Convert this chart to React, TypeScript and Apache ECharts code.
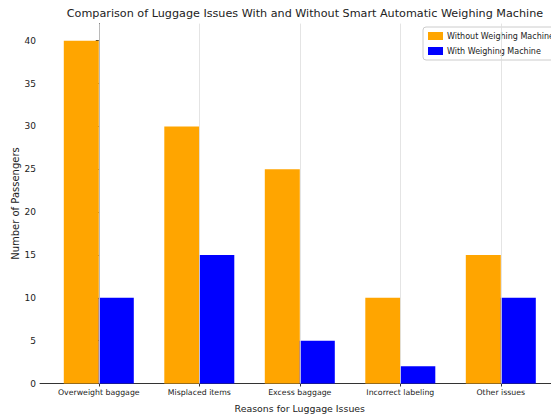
import React, { useEffect, useRef } from "react";
import * as echarts from "echarts";

const categories = ["Overweight baggage", "Misplaced items", "Excess baggage", "Incorrect labeling", "Other issues"];
const withoutMachine = [40, 30, 25, 10, 15];
const withMachine = [10, 15, 5, 2, 10];
const yTicks = [0, 5, 10, 15, 20, 25, 30, 35, 40];
const catIdx = categories.map((_, i) => i);

export default function App() {
  const ref = useRef<HTMLDivElement>(null);
  useEffect(() => {
    if (!ref.current) return;
    const chart = echarts.init(ref.current, null, { renderer: "svg" });
    const font = "DejaVu Sans";
    chart.setOption({
      animation: false,
      backgroundColor: "#fff",
      textStyle: { fontFamily: font },
      title: {
        text: "Comparison of Luggage Issues With and Without Smart Automatic Weighing Machine",
        left: 300,
        textAlign: "center",
        top: 3,
        textStyle: { fontFamily: font, fontSize: 11.2, fontWeight: "normal", color: "#222" },
      },
      legend: {
        data: ["Without Weighing Machine", "With Weighing Machine"],
        orient: "vertical",
        left: 423,
        top: 27,
        itemWidth: 15,
        itemHeight: 8,
        itemGap: 7,
        padding: [5, 6, 5, 5],
        borderColor: "#ccc",
        borderWidth: 1,
        borderRadius: 3,
        backgroundColor: "rgba(255,255,255,0.9)",
        icon: "rect",
        textStyle: { fontFamily: font, fontSize: 8, color: "#222", padding: [0, 0, 0, -1] },
      },
      grid: { left: 40, right: -8.6, top: 23.6, bottom: 32.5, containLabel: false, outerBoundsMode: "none" },
      xAxis: {
        type: "value",
        min: -0.585,
        max: 4.585,
        name: "Reasons for Luggage Issues",
        nameLocation: "middle",
        nameGap: 20,
        nameMoveOverlap: false,
        nameTextStyle: { fontFamily: font, fontSize: 9.4, color: "#222" },
        axisLine: { show: true, lineStyle: { color: "#333", width: 1 } },
        axisTick: { show: true, length: 3, customValues: catIdx, lineStyle: { color: "#333" } },
        axisLabel: {
          customValues: catIdx,
          formatter: (v: number) => categories[Math.round(v)] ?? "",
          fontFamily: font,
          fontSize: 7.8,
          color: "#222",
          margin: 5,
        },
        splitLine: { show: false },
      },
      yAxis: {
        type: "value",
        min: 0,
        max: 42,
        name: "Number of Passengers",
        nameLocation: "middle",
        nameGap: 20,
        nameMoveOverlap: false,
        nameTextStyle: { fontFamily: font, fontSize: 10, color: "#222" },
        axisLine: { show: true, lineStyle: { color: "#333", width: 1 } },
        axisTick: { show: true, length: 3, customValues: yTicks, lineStyle: { color: "#333" } },
        axisLabel: {
          customValues: yTicks,
          fontFamily: font,
          fontSize: 9,
          color: "#222",
          margin: 4,
        },
        splitLine: { show: false },
      },
      series: [
        {
          type: "line",
          name: "grid",
          data: [],
          z: 0,
          silent: true,
          markLine: {
            silent: true,
            symbol: "none",
            label: { show: false },
            lineStyle: { color: "#ddd", type: "solid", width: 0.8 },
            data: catIdx.map((i) => ({ xAxis: i })),
          },
        },
        {
          type: "bar",
          name: "Without Weighing Machine",
          data: withoutMachine.map((v, i) => [i, v]),
          barWidth: 35,
          barGap: "0%",
          itemStyle: { color: "#FFA500" },
          z: 2,
        },
        {
          type: "bar",
          name: "With Weighing Machine",
          data: withMachine.map((v, i) => [i, v]),
          barWidth: 35,
          barGap: "0%",
          itemStyle: { color: "#0000FF" },
          z: 2,
        },
      ],
    });
    return () => chart.dispose();
  }, []);
  return <div ref={ref} style={{ width: 551, height: 416, position: "absolute", left: 0, top: 0 }} />;
}
